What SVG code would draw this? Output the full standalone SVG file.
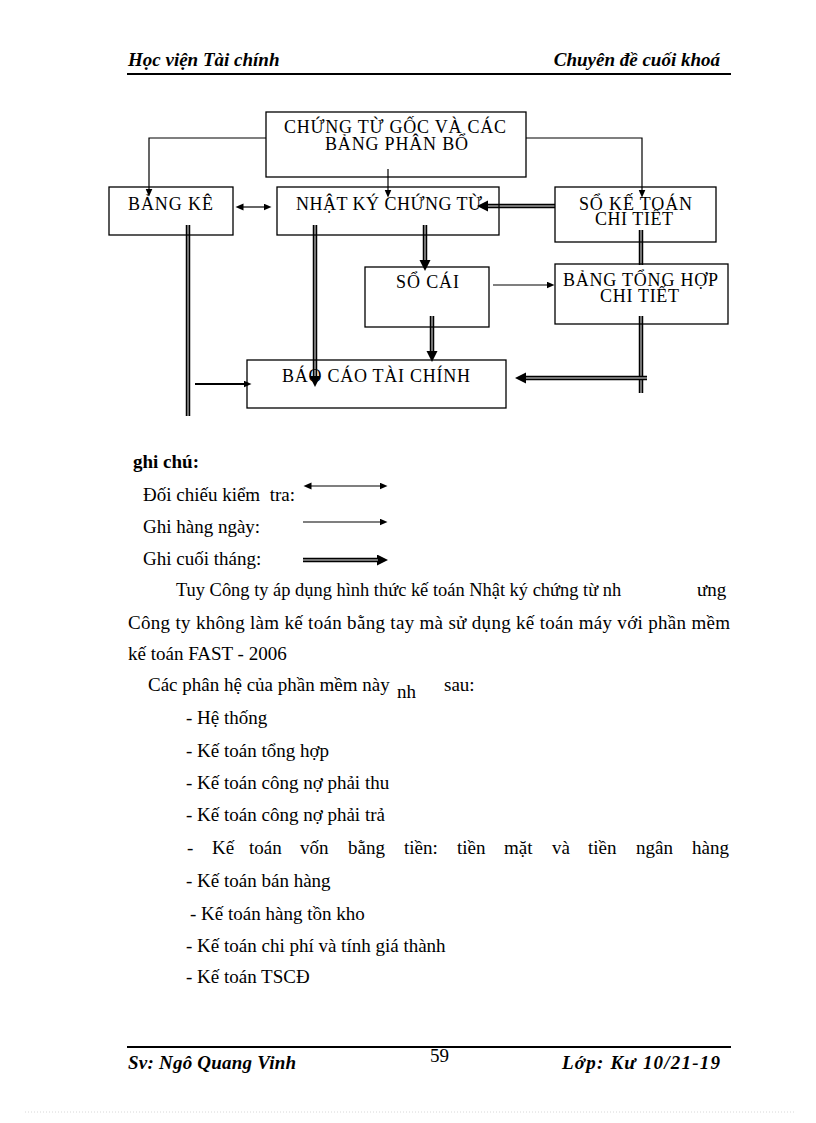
<svg xmlns="http://www.w3.org/2000/svg" width="816" height="1123" viewBox="0 0 816 1123">
<style>
.t{font-family:"Liberation Serif","Times New Roman",serif;font-size:19px;fill:#000}
.b{font-family:"Liberation Serif","Times New Roman",serif;font-size:18px;fill:#000}
.hd{font-family:"Liberation Serif","Times New Roman",serif;font-size:19px;font-weight:bold;font-style:italic;fill:#000}
.box{fill:none;stroke:#000;stroke-width:1.3}
.ln{fill:none;stroke:#000;stroke-width:1.2}
.dbo{fill:none;stroke:#000;stroke-width:4.5}
.dbi{fill:none;stroke:#9a9a9a;stroke-width:1.5}
.rule{stroke:#000;stroke-width:2.2}
</style>
<defs>
<marker id="ah" markerUnits="userSpaceOnUse" markerWidth="9" markerHeight="8" refX="0.5" refY="3.5" orient="auto-start-reverse"><path d="M0,0 L8,3.5 L0,7 z" fill="#000"/></marker>
<marker id="big" markerUnits="userSpaceOnUse" markerWidth="12" markerHeight="12" refX="1" refY="5.5" orient="auto"><path d="M0,0 L11,5.5 L0,11 z" fill="#000"/></marker>
</defs>
<rect width="816" height="1123" fill="#fff"/>

<g id="header">
<text class="hd" x="128" y="66">Học viện Tài chính</text>
<text class="hd" x="720" y="66" text-anchor="end">Chuyên đề cuối khoá</text>
<line class="rule" x1="127" y1="74" x2="731" y2="74"/>
</g>

<g id="connectors">
<path class="ln" d="M266,138 H149 V189" marker-end="url(#ah)"/>
<path class="ln" d="M526,138 H642 V190" marker-end="url(#ah)"/>
<path class="ln" d="M388,169 V190" marker-end="url(#ah)"/>
<path class="ln" d="M243,207 H264" marker-start="url(#ah)" marker-end="url(#ah)"/>
<path class="dbo" d="M555,206 H487" marker-end="url(#big)"/><path class="dbi" d="M555,206 H488"/>
<path class="dbo" d="M188,225 V416"/><path class="dbi" d="M188,225 V416"/>
<path class="dbo" d="M315,225 V377" marker-end="url(#big)"/><path class="dbi" d="M315,225 V376"/>
<path class="dbo" d="M425,225 V261" marker-end="url(#big)"/><path class="dbi" d="M425,225 V260"/>
<path class="dbo" d="M432,316 V352" marker-end="url(#big)"/><path class="dbi" d="M432,316 V351"/>
<path class="ln" d="M493,285 H547" marker-end="url(#ah)"/>
<path class="dbo" d="M641,230 V265"/><path class="dbi" d="M641,230 V265"/>
<path class="dbo" d="M641,316 V393"/><path class="dbi" d="M641,316 V393"/>
<path class="dbo" d="M647,378 H525" marker-end="url(#big)"/><path class="dbi" d="M647,378 H526"/>
<path class="ln" style="stroke-width:1.8" d="M195,384 H244" marker-end="url(#ah)"/>
</g>

<g id="n-chungtugoc">
<rect class="box" x="266" y="112" width="260" height="65"/>
<text class="b" x="284" y="133" textLength="222">CHỨNG TỪ GỐC VÀ CÁC</text>
<text class="b" x="325" y="150" textLength="143">BẢNG PHÂN BỔ</text>
</g>
<g id="n-bangke">
<rect class="box" x="109" y="187" width="124" height="48"/>
<text class="b" x="128" y="210" textLength="85">BẢNG KÊ</text>
</g>
<g id="n-nhatky">
<rect class="box" x="277" y="187" width="222" height="48"/>
<text class="b" x="296" y="210" textLength="186">NHẬT KÝ CHỨNG TỪ</text>
</g>
<g id="n-soketoan">
<rect class="box" x="555" y="187" width="161" height="55"/>
<text class="b" x="579" y="210" textLength="113">SỔ KẾ TOÁN</text>
<text class="b" x="595" y="225" textLength="78">CHI TIẾT</text>
</g>
<g id="n-socai">
<rect class="box" x="365" y="267" width="124" height="60"/>
<text class="b" x="396" y="288" textLength="63">SỔ CÁI</text>
</g>
<g id="n-bangtonghop">
<rect class="box" x="555" y="264" width="173" height="60"/>
<text class="b" x="563" y="286" textLength="155">BẢNG TỔNG HỢP</text>
<text class="b" x="600" y="302" textLength="79">CHI TIẾT</text>
</g>
<g id="n-baocao">
<rect class="box" x="247" y="360" width="259" height="48"/>
<text class="b" x="282" y="382" textLength="188">BÁO CÁO TÀI CHÍNH</text>
</g>

<g id="legend">
<text class="t" x="133" y="468" font-weight="bold">ghi chú:</text>
<text class="t" x="143" y="501" xml:space="preserve">Đối chiếu kiểm  tra:</text>
<text class="t" x="143" y="533">Ghi hàng ngày:</text>
<text class="t" x="143" y="565">Ghi cuối tháng:</text>
<path class="ln" d="M311,486 H380" marker-start="url(#ah)" marker-end="url(#ah)"/>
<path class="ln" d="M303,522 H380" marker-end="url(#ah)"/>
<path class="dbo" d="M303,560 H378" marker-end="url(#big)"/><path class="dbi" d="M303,560 H378"/>
</g>

<g id="body">
<text class="t" transform="translate(176,596) scale(0.97,1)" x="0" y="0">Tuy Công ty áp dụng hình thức kế toán Nhật ký chứng từ nh</text>
<text class="t" x="697" y="596">ưng</text>
<text class="t" x="128" y="629" textLength="602">Công ty không làm kế toán bằng tay mà sử dụng kế toán máy với phần mềm</text>
<text class="t" x="128" y="660">kế toán FAST - 2006</text>
<text class="t" x="148" y="691">Các phân hệ của phần mềm này</text>
<text class="t" x="397" y="698" font-size="17">nh</text>
<text class="t" x="444" y="691">sau:</text>
<text class="t" x="186" y="724">- Hệ thống</text>
<text class="t" x="186" y="757">- Kế toán tổng hợp</text>
<text class="t" x="186" y="789">- Kế toán công nợ phải thu</text>
<text class="t" x="186" y="821">- Kế toán công nợ phải trả</text>
<text class="t" y="854"><tspan x="187">-</tspan><tspan x="212">Kế</tspan><tspan x="249">toán</tspan><tspan x="300">vốn</tspan><tspan x="348">bằng</tspan><tspan x="404">tiền:</tspan><tspan x="457">tiền</tspan><tspan x="504">mặt</tspan><tspan x="552">và</tspan><tspan x="588">tiền</tspan><tspan x="636">ngân</tspan><tspan x="692">hàng</tspan></text>
<text class="t" x="186" y="887">- Kế toán bán hàng</text>
<text class="t" x="190" y="920">- Kế toán hàng tồn kho</text>
<text class="t" x="186" y="952">- Kế toán chi phí và tính giá thành</text>
<text class="t" x="186" y="983">- Kế toán TSCĐ</text>
</g>

<g id="footer">
<line class="rule" x1="127" y1="1047" x2="731" y2="1047"/>
<text class="hd" x="128" y="1069" textLength="168">Sv: Ngô Quang Vinh</text>
<text class="t" x="430" y="1062" font-size="17">59</text>
<text class="hd" x="562" y="1069" textLength="158">Lớp: Kư 10/21-19</text>
<line x1="25" y1="1112" x2="795" y2="1112" stroke="#d8d8d8" stroke-width="1" stroke-dasharray="1 2"/>
</g>
</svg>
